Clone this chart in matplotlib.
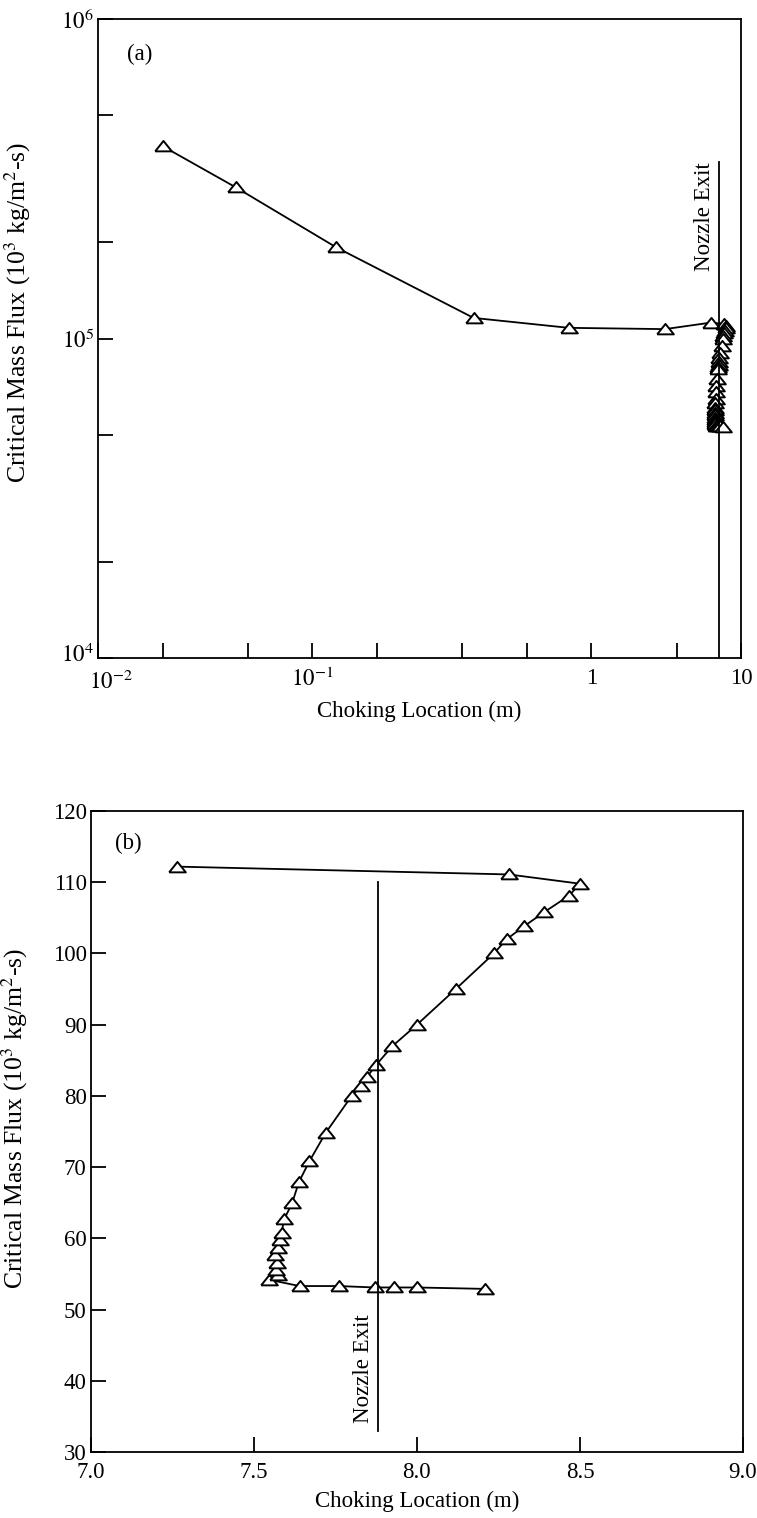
import matplotlib
matplotlib.use('Agg')
import matplotlib.pyplot as plt
from matplotlib.ticker import FixedLocator, FixedFormatter, NullLocator
from matplotlib.transforms import ScaledTranslation

plt.rcParams['font.family'] = ['Liberation Serif', 'DejaVu Serif']
plt.rcParams['mathtext.fontset'] = 'stix'

# panel (b): choking location (m) vs critical mass flux (10^3 kg/m2-s)
b_x = [8.21, 8.00, 7.93, 7.87, 7.76, 7.64, 7.545, 7.573, 7.567, 7.570, 7.564,
       7.575, 7.580, 7.585, 7.593, 7.617, 7.638, 7.670, 7.720, 7.800, 7.830,
       7.846, 7.874, 7.925, 8.000, 8.119, 8.236, 8.275, 8.328, 8.390, 8.466,
       8.500, 8.282, 7.263]
b_y = [52.9, 53.1, 53.1, 53.1, 53.3, 53.3, 54.2, 54.8, 55.6, 56.5, 57.6,
       58.6, 59.8, 60.8, 62.7, 64.9, 67.9, 70.8, 74.8, 80.0, 81.4,
       82.6, 84.3, 87.0, 90.0, 95.0, 100.0, 102.0, 103.8, 105.8, 108.1,
       109.8, 111.1, 112.2]

# panel (a): upstream points, then the same cluster near the exit
a_x_up = [0.020, 0.044, 0.129, 0.565, 1.57, 4.41]
a_y_up = [4.0e5, 2.97e5, 1.93e5, 1.16e5, 1.08e5, 1.07e5]

nozzle_x = 7.88

a_x = a_x_up + b_x[::-1]
a_y = a_y_up + [v * 1000 for v in b_y[::-1]]

fig = plt.figure(figsize=(7.57, 15.18), dpi=100)

fs = 16.5
ylab = 'Critical Mass Flux (10$^3$ kg/m$^2$-s)'
tri = [(-1.2, -0.7), (1.2, -0.7), (0, 0.8), (-1.2, -0.7)]
mk = dict(color='black', lw=1.3, marker=tri, ms=12, mfc='white',
          mec='black', mew=1.4)

# ---- (a) ----
ax1 = fig.add_axes([0.1295, 0.5665, 0.8495, 0.421])
ax1.set_xscale('log')
ax1.set_yscale('log')
ax1.set_xlim(0.01, 10)
ax1.set_ylim(1e4, 1e6)
ax1.plot(a_x, a_y, **mk)
ax1.plot([nozzle_x, nozzle_x], [1e4, 3.56e5], color='black', lw=1.3)
ax1.annotate('Nozzle Exit', xy=(nozzle_x, 3.56e5), xytext=(-3, 0),
             textcoords='offset points', rotation=90, ha='right', va='top',
             fontsize=fs)
ax1.text(0.045, 0.935, '(a)', transform=ax1.transAxes, fontsize=fs)

ax1.xaxis.set_major_locator(FixedLocator([0.01, 0.02, 0.05, 0.1, 0.2, 0.5, 1, 2, 5, 10]))
ax1.xaxis.set_major_formatter(FixedFormatter(
    ['$10^{-2}$', '', '', '$10^{-1}$', '', '', '', '1', '', '10']))
ax1.yaxis.set_major_locator(FixedLocator([1e4, 2e4, 5e4, 1e5, 2e5, 5e5, 1e6]))
ax1.yaxis.set_major_formatter(FixedFormatter(
    ['$10^4$', '', '', '$10^5$', '', '', '$10^6$']))
ax1.xaxis.set_minor_locator(NullLocator())
ax1.yaxis.set_minor_locator(NullLocator())
ax1.set_xlabel('Choking Location (m)', fontsize=fs, labelpad=5)
ax1.set_ylabel(ylab, fontsize=18.5)
ax1.yaxis.set_label_coords(-0.101, 0.54)

# ---- (b) ----
ax2 = fig.add_axes([0.120, 0.0435, 0.8615, 0.4222])
ax2.set_xlim(7.0, 9.0)
ax2.set_ylim(30, 120)
ax2.plot(b_x, b_y, **mk)
ax2.plot([nozzle_x, nozzle_x], [33, 110], color='black', lw=1.3)
ax2.annotate('Nozzle Exit', xy=(nozzle_x, 34), xytext=(-3, 0),
             textcoords='offset points', rotation=90, ha='right', va='bottom',
             fontsize=fs)
ax2.text(0.037, 0.94, '(b)', transform=ax2.transAxes, fontsize=fs)

ax2.set_xticks([7.0, 7.5, 8.0, 8.5, 9.0])
ax2.set_xticklabels(['7.0', '7.5', '8.0', '8.5', '9.0'])
ax2.set_yticks(range(30, 121, 10))
ax2.set_xlabel('Choking Location (m)', fontsize=fs, labelpad=6)
ax2.set_ylabel(ylab, fontsize=18.5)
ax2.yaxis.set_label_coords(-0.093, 0.52)

for ax in (ax1, ax2):
    ax.tick_params(direction='in', length=11, width=1.3, labelsize=fs)
    ax.tick_params(axis='y', pad=3)
    ax.tick_params(axis='x', pad=7)
    for s in ax.spines.values():
        s.set_linewidth(1.3)

# nudge the first x label of (a) off the corner, as in the original
shift = ScaledTranslation(9 / 72, -2 / 72, fig.dpi_scale_trans)
t0 = ax1.xaxis.get_major_ticks()[0].label1
t0.set_transform(t0.get_transform() + shift)
shift_y = ScaledTranslation(0, 4 / 72, fig.dpi_scale_trans)
y0 = ax1.yaxis.get_major_ticks()[0].label1
y0.set_transform(y0.get_transform() + shift_y)

fig.savefig('out.png', dpi=100)
